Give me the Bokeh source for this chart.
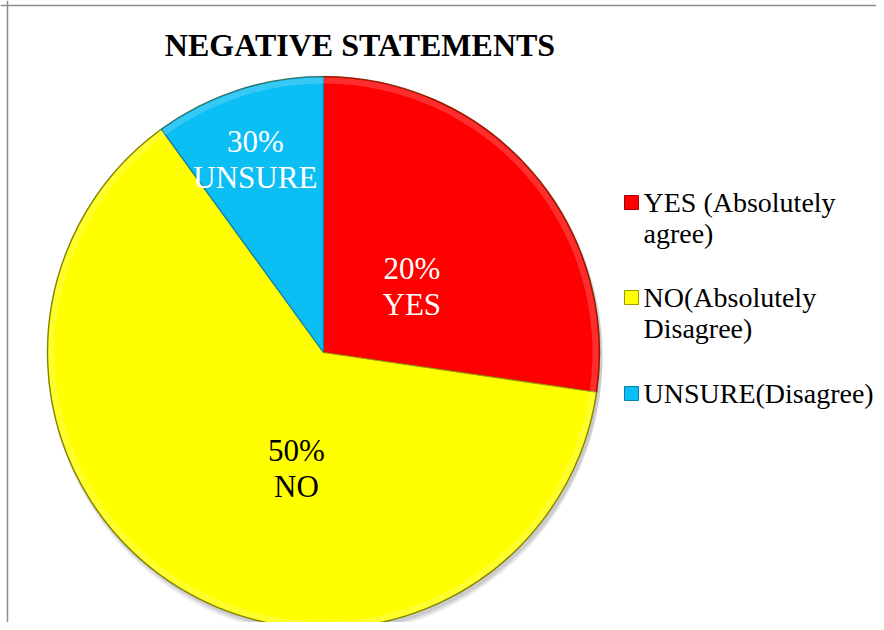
import math
from bokeh.plotting import figure
from bokeh.models import Range1d, ColumnDataSource, Span
from bokeh.core.properties import value
from bokeh.embed import file_html
from bokeh.resources import INLINE

# ---- data ----
title_text = "NEGATIVE STATEMENTS"
categories = ["YES", "NO", "UNSURE"]
shares = [27.3, 62.7, 10.0]                # slice sizes as drawn
label_pct = ["20%", "50%", "30%"]          # percentages printed in the slices
legend_labels = ["YES (Absolutely\nagree)", "NO(Absolutely\nDisagree)", "UNSURE(Disagree)"]

# ---- styles ----
colors = ["#FF0000", "#FFFF00", "#0BBEF4"]
edge_colors = ["#A80000", "#9A9A00", "#0A7FA6"]
label_colors = ["white", "black", "white"]
label_r_frac = [0.40, 0.43, 0.74]
label_ang_shift = [-4, 18, 1.5]
FONT = "Liberation Serif"

W, H = 876, 622
p = figure(width=W, height=H, output_backend="svg", toolbar_location=None,
           x_range=Range1d(0, W), y_range=Range1d(0, H), min_border=0)
p.axis.visible = False
p.grid.visible = False
p.outline_line_color = None
p.background_fill_color = "white"
p.border_fill_color = "white"

# frame border (left & top visible in reference)
p.add_layout(Span(location=7, dimension="height", line_color="#8C8C8C", line_width=1.5))
p.add_layout(Span(location=H - 5, dimension="width", line_color="#8C8C8C", line_width=1.5))

cx, cy, R = 323, 270, 276

# compute angles (clockwise from 12 o'clock)
total = sum(shares)
starts, ends, mids = [], [], []
a = 90.0
for v in shares:
    span = 360.0 * v / total
    starts.append(math.radians(a))
    ends.append(math.radians(a - span))
    mids.append(a - span / 2)
    a -= span

# soft shadow
for off, alp in [(7, 0.05), (5, 0.07), (3, 0.09)]:
    p.circle(x=[cx + 2], y=[cy - off], radius=R + 1, fill_color="black",
             fill_alpha=alp, line_color=None)

src = ColumnDataSource(dict(start=starts, end=ends, color=colors, edge=edge_colors))
p.wedge(x=cx, y=cy, radius=R, start_angle="start", end_angle="end", direction="clock",
        fill_color="color", line_color="edge", line_width=1.2, source=src)

# bevel: light rim, dark outline
p.annular_wedge(x=cx, y=cy, inner_radius=R - 7, outer_radius=R - 1, start_angle="start",
                end_angle="end", direction="clock", fill_color="white", fill_alpha=0.18,
                line_color=None, source=src)
p.circle(x=[cx], y=[cy], radius=R, fill_color=None, line_color="#555500",
         line_alpha=0.35, line_width=1.5)

# slice labels
lx, ly, ltxt = [], [], []
for i in range(len(categories)):
    ang = math.radians(mids[i] + label_ang_shift[i])
    lx.append(cx + R * label_r_frac[i] * math.cos(ang))
    ly.append(cy + R * label_r_frac[i] * math.sin(ang))
    ltxt.append(label_pct[i] + "\n" + categories[i])
p.text(x=lx, y=ly, text=ltxt, text_color=label_colors, text_font=value(FONT),
       text_font_size="31px", text_align="center", text_baseline="middle",
       text_line_height=1.03)

# title
p.text(x=[359.5], y=[H - 44], text=[title_text], text_font=value(FONT),
       text_font_size="32px", text_font_style="bold", text_align="center",
       text_baseline="middle", text_color="black")

# legend
leg_x_marker = 631
leg_y_first = [H - 202, H - 297, H - 393]   # first-line centres
line_sp = 31
mx, my, tx, ty = [], [], [], []
for i, lab in enumerate(legend_labels):
    n = lab.count("\n") + 1
    mx.append(leg_x_marker)
    my.append(leg_y_first[i])
    tx.append(leg_x_marker + 12)
    ty.append(leg_y_first[i] - (n - 1) * line_sp / 2)
p.rect(x=mx, y=my, width=14, height=14, fill_color=colors, line_color=edge_colors,
       line_width=1)
p.text(x=tx, y=ty, text=legend_labels, text_font=value(FONT), text_font_size="28px",
       text_align="left", text_baseline="middle", text_color="black",
       text_line_height=1.0)

open("out.html", "w").write(file_html(p, INLINE))
